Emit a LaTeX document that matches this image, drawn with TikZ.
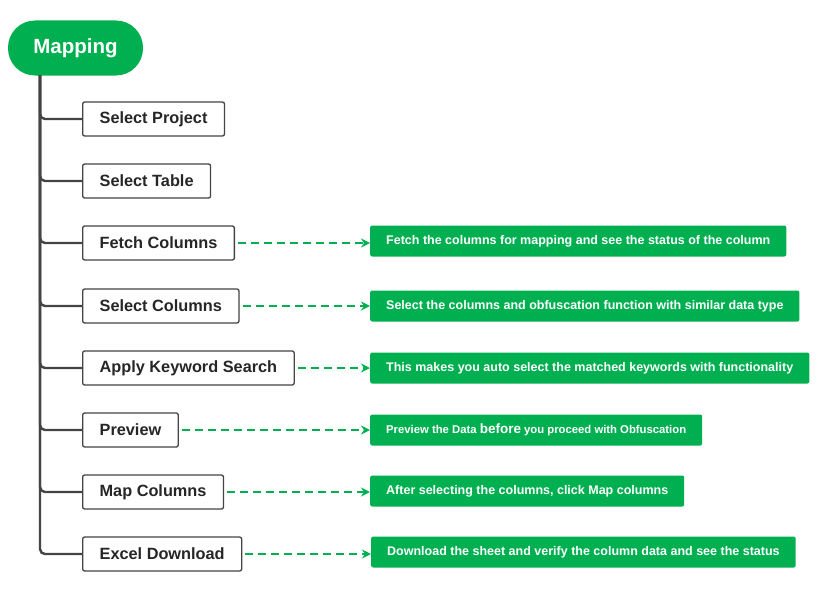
\documentclass[tikz,border=0pt]{standalone}
\usepackage{fontspec}
\setmainfont{Liberation Sans}
\usetikzlibrary{arrows.meta}
\definecolor{mapgreen}{RGB}{0,176,80}
\definecolor{treegray}{RGB}{68,68,68}

\begin{document}
\begin{tikzpicture}[x=1pt, y=-1pt,
   root/.style={fill=mapgreen, text=white, rounded corners=27pt, minimum width=135pt,
                minimum height=55pt, font=\bfseries\fontsize{20.5}{24}\selectfont},
   stepbox/.style={draw=treegray, line width=1.3pt, fill=white, rounded corners=2pt, anchor=west,
                   minimum height=34pt, inner xsep=17pt, text=black!85,
                   font=\bfseries\fontsize{16.3}{19}\selectfont},
   note/.style={fill=mapgreen, text=white, rounded corners=2pt, anchor=west, minimum height=31pt,
                inner xsep=16pt, font=\bfseries\fontsize{12.5}{14}\selectfont},
   branch/.style={draw=treegray, line width=2.4pt, rounded corners=5pt},
   link/.style={draw=mapgreen, line width=1.5pt, dash pattern=on 8pt off 5pt,
                -{Stealth[length=9pt, width=9pt, inset=3pt]}, shorten <=3pt}]

\useasboundingbox (0,0) rectangle (826,594);

\node[root] (map) at (75.5,48) {Mapping};
\coordinate (trunk) at (40,75);

\node[stepbox] (project) at (82,119) {Select Project};
\node[stepbox] (table)   at (82,181) {Select Table};
\node[stepbox] (fetch)   at (82,243) {Fetch Columns};
\node[stepbox] (select)  at (82,306) {Select Columns};
\node[stepbox] (keyword) at (82,368) {Apply Keyword Search};
\node[stepbox] (preview) at (82,430) {Preview};
\node[stepbox] (mapcols) at (82,492) {Map Columns};
\node[stepbox] (excel)   at (82,554) {Excel Download};

\foreach \n in {project,table,fetch,select,keyword,preview,mapcols,excel}
   \draw[branch] (trunk) |- (\n.west);

\node[note] (fetchnote)   at (370,241) {Fetch the columns for mapping and see the status of the column};
\node[note] (selectnote)  at (370,306) {Select the columns and obfuscation function with similar data type};
\node[note] (keywordnote) at (370,368) {This makes you auto select the matched keywords with functionality};
\node[note] (previewnote) at (370,430) {{\fontsize{11.3}{12}\selectfont Preview the Data }{\fontsize{13.5}{14}\selectfont before}{\fontsize{11.3}{12}\selectfont{} you proceed with Obfuscation}};
\node[note] (mapcolsnote) at (370,491) {After selecting the columns, click Map columns};
\node[note] (excelnote)   at (371,552) {Download the sheet and verify the column data and see the status};

\foreach \n in {fetch,select,keyword,preview,mapcols,excel}
   \draw[link] (\n.east) -- (\n.east -| \n note.west);

\end{tikzpicture}
\end{document}
